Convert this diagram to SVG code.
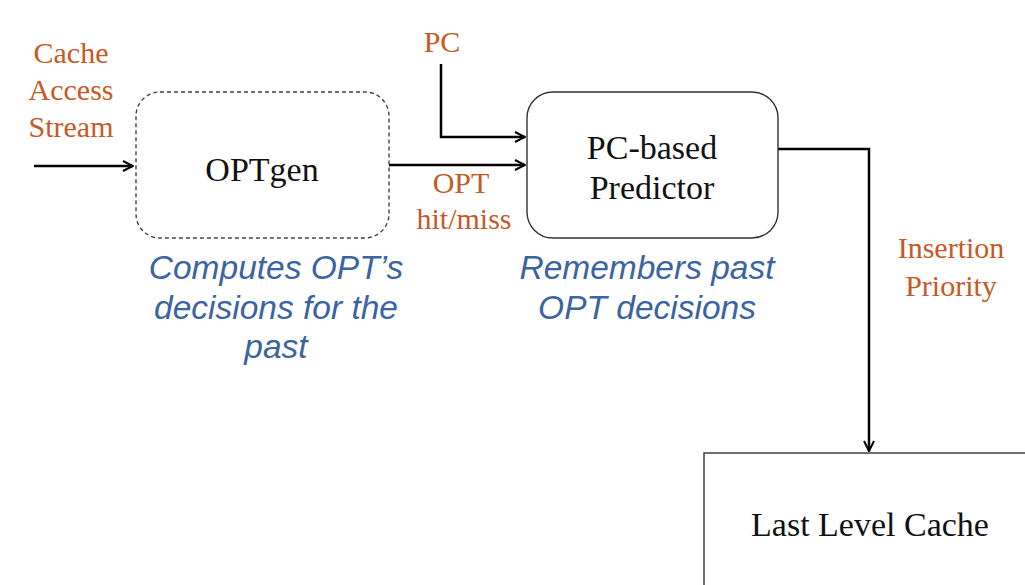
<svg xmlns="http://www.w3.org/2000/svg" width="1025" height="585" viewBox="0 0 1025 585">
  <defs>
    <marker id="arrow" viewBox="0 0 12 12" refX="11" refY="6" markerWidth="12" markerHeight="12" markerUnits="userSpaceOnUse" orient="auto">
      <path d="M1,1 L11,6 L1,11" fill="none" stroke="#000" stroke-width="2"/>
    </marker>
    <style>
      .lbl { font-family: "Liberation Serif", "Times New Roman", serif; fill: #C55A28; font-size: 30px; text-anchor: middle; }
      .name { font-family: "Liberation Serif", "Times New Roman", serif; fill: #111; font-size: 34px; text-anchor: middle; }
      .note { font-family: "Liberation Sans", Arial, sans-serif; fill: #3B64A0; font-size: 33.5px; font-style: italic; text-anchor: middle; }
      .wire { fill: none; stroke: #000; stroke-width: 2.5; }
    </style>
  </defs>
  <rect width="1025" height="585" fill="#fff"/>

  <g id="connectors">
    <path class="wire" d="M34,166 H133" marker-end="url(#arrow)"/>
    <path class="wire" d="M441,64 V137 H525" marker-end="url(#arrow)"/>
    <path class="wire" d="M389,165 H525" marker-end="url(#arrow)"/>
    <path class="wire" d="M778,149 H869 V451" marker-end="url(#arrow)"/>
  </g>

  <g id="input-label">
    <text class="lbl" x="71" y="63">Cache</text>
    <text class="lbl" x="71" y="100">Access</text>
    <text class="lbl" x="71" y="137">Stream</text>
  </g>

  <g id="optgen">
    <rect x="136" y="92" width="253" height="146" rx="24" ry="24" fill="#fff" stroke="#444" stroke-width="1.4" stroke-dasharray="4,3"/>
    <text class="name" x="262" y="181" font-size="38">OPTgen</text>
  </g>

  <g id="optgen-note">
    <text class="note" x="276" y="279">Computes OPT’s</text>
    <text class="note" x="276" y="319">decisions for the</text>
    <text class="note" x="276" y="358">past</text>
  </g>

  <g id="pc-label">
    <text class="lbl" x="442" y="52">PC</text>
  </g>

  <g id="opt-label">
    <text class="lbl" x="461" y="193">OPT</text>
    <text class="lbl" x="464" y="229">hit/miss</text>
  </g>

  <g id="predictor">
    <rect x="527" y="92" width="251" height="146" rx="26" ry="26" fill="#fff" stroke="#333" stroke-width="1.4"/>
    <text class="name" x="652" y="159">PC-based</text>
    <text class="name" x="652" y="199">Predictor</text>
  </g>

  <g id="predictor-note">
    <text class="note" x="647" y="279">Remembers past</text>
    <text class="note" x="647" y="319">OPT decisions</text>
  </g>

  <g id="priority-label">
    <text class="lbl" x="951" y="258">Insertion</text>
    <text class="lbl" x="951" y="296">Priority</text>
  </g>

  <g id="llc">
    <rect x="704" y="453" width="340" height="150" fill="#fff" stroke="#333" stroke-width="1.4"/>
    <text class="name" x="870" y="536">Last Level Cache</text>
  </g>
</svg>
